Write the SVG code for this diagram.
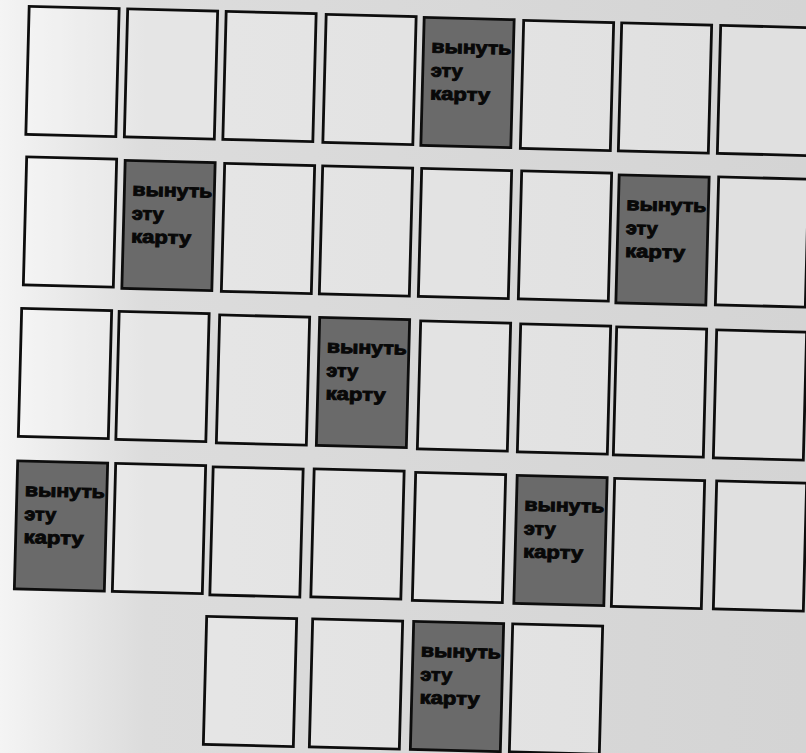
<svg xmlns="http://www.w3.org/2000/svg" width="806" height="753" viewBox="0 0 806 753">
<defs>
<linearGradient id="bg" x1="0" y1="0" x2="1" y2="0">
<stop offset="0" stop-color="#f4f4f4"/>
<stop offset="0.18" stop-color="#dcdcdc"/>
<stop offset="1" stop-color="#d4d4d4"/>
</linearGradient>
<style>
.card{fill:#ffffff;fill-opacity:0.28;stroke:#0d0d0d;stroke-width:2.8}
.dark{fill:#6a6a6a;fill-opacity:1;stroke:#0d0d0d;stroke-width:2.8}
.lbl{font-family:"Liberation Sans","DejaVu Sans",sans-serif;font-weight:bold;font-size:18px;fill:#080808;stroke:#080808;stroke-width:0.9}
</style>
<rect id="c" class="card" x="-45" y="-64" width="90" height="128"/>
<g id="d">
<rect class="dark" x="-45" y="-64" width="90" height="128"/>
<text class="lbl" x="-37" y="-29" textLength="80" lengthAdjust="spacingAndGlyphs">вынуть</text>
<text class="lbl" x="-37" y="-5" textLength="32" lengthAdjust="spacingAndGlyphs">эту</text>
<text class="lbl" x="-37" y="18" textLength="60" lengthAdjust="spacingAndGlyphs">карту</text>
</g>
</defs>
<rect width="806" height="753" fill="url(#bg)"/>
<g id="row1">
<g id="r1c1" transform="translate(72.5,71.5) rotate(1.5)"><use href="#c"/></g>
<g id="r1c2" transform="translate(171,74) rotate(1.5)"><use href="#c"/></g>
<g id="r1c3" transform="translate(269.5,76.5) rotate(1.5)"><use href="#c"/></g>
<g id="r1c4" transform="translate(369.5,79.5) rotate(1.5)"><use href="#c"/></g>
<g id="r1c5" transform="translate(467.5,82.5) rotate(1.5)"><use href="#d"/></g>
<g id="r1c6" transform="translate(567,85.5) rotate(1.5)"><use href="#c"/></g>
<g id="r1c7" transform="translate(665,88) rotate(1.5)"><use href="#c"/></g>
<g id="r1c8" transform="translate(764,90.5) rotate(1.5)"><use href="#c"/></g>
</g>
<g id="row2">
<g id="r2c1" transform="translate(70,222) rotate(1.5)"><use href="#c"/></g>
<g id="r2c2" transform="translate(168.5,225.5) rotate(1.5)"><use href="#d"/></g>
<g id="r2c3" transform="translate(268,228.5) rotate(1.5)"><use href="#c"/></g>
<g id="r2c4" transform="translate(366,231) rotate(1.5)"><use href="#c"/></g>
<g id="r2c5" transform="translate(465,233.5) rotate(1.5)"><use href="#c"/></g>
<g id="r2c6" transform="translate(565,236) rotate(1.5)"><use href="#c"/></g>
<g id="r2c7" transform="translate(662.5,240) rotate(1.5)"><use href="#d"/></g>
<g id="r2c8" transform="translate(762,242) rotate(1.5)"><use href="#c"/></g>
</g>
<g id="row3">
<g id="r3c1" transform="translate(65,373.5) rotate(1.5)"><use href="#c"/></g>
<g id="r3c2" transform="translate(162.5,376.5) rotate(1.5)"><use href="#c"/></g>
<g id="r3c3" transform="translate(263,380) rotate(1.5)"><use href="#c"/></g>
<g id="r3c4" transform="translate(363,382.5) rotate(1.5)"><use href="#d"/></g>
<g id="r3c5" transform="translate(464,386) rotate(1.5)"><use href="#c"/></g>
<g id="r3c6" transform="translate(564,389) rotate(1.5)"><use href="#c"/></g>
<g id="r3c7" transform="translate(660,392) rotate(1.5)"><use href="#c"/></g>
<g id="r3c8" transform="translate(760,395) rotate(1.5)"><use href="#c"/></g>
</g>
<g id="row4">
<g id="r4c1" transform="translate(61,526) rotate(1.5)"><use href="#d"/></g>
<g id="r4c2" transform="translate(159,528.5) rotate(1.5)"><use href="#c"/></g>
<g id="r4c3" transform="translate(256.5,532) rotate(1.5)"><use href="#c"/></g>
<g id="r4c4" transform="translate(357.5,534) rotate(1.5)"><use href="#c"/></g>
<g id="r4c5" transform="translate(459,537.5) rotate(1.5)"><use href="#c"/></g>
<g id="r4c6" transform="translate(560.5,540.5) rotate(1.5)"><use href="#d"/></g>
<g id="r4c7" transform="translate(658,543.5) rotate(1.5)"><use href="#c"/></g>
<g id="r4c8" transform="translate(760,546) rotate(1.5)"><use href="#c"/></g>
</g>
<g id="row5">
<g id="r5c1" transform="translate(250,681.5) rotate(1.5)"><use href="#c"/></g>
<g id="r5c2" transform="translate(356,684) rotate(1.5)"><use href="#c"/></g>
<g id="r5c3" transform="translate(457,686.5) rotate(1.5)"><use href="#d"/></g>
<g id="r5c4" transform="translate(556,689) rotate(1.5)"><use href="#c"/></g>
</g>
<g id="connectors"/>
</svg>
